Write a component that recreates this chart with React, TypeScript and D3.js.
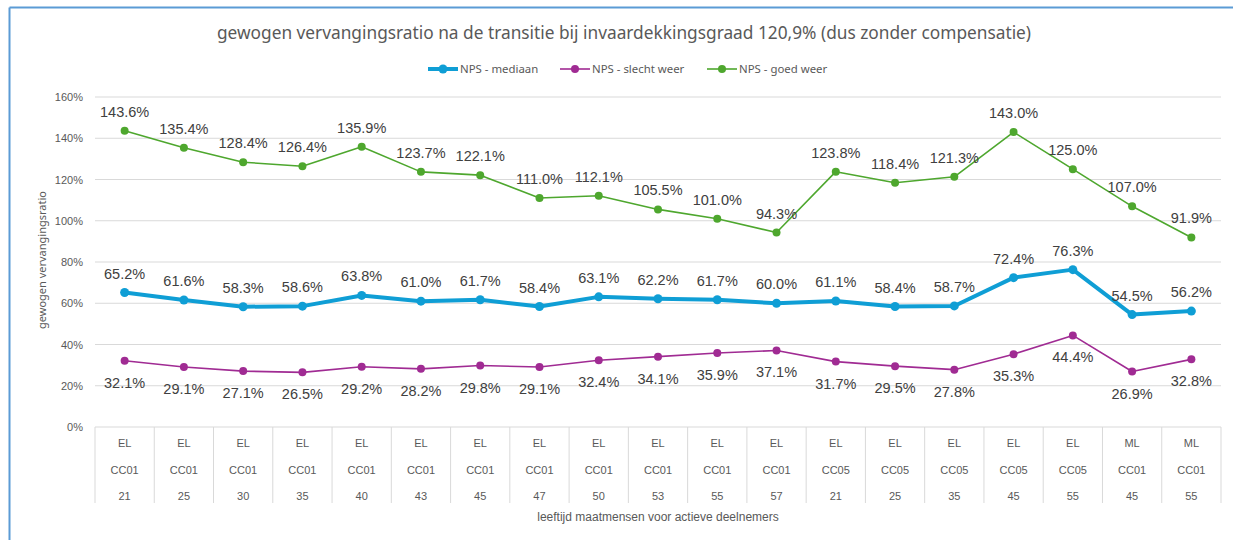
import React from "react";
import * as d3 from "d3";

const rowType = ["EL","EL","EL","EL","EL","EL","EL","EL","EL","EL","EL","EL","EL","EL","EL","EL","EL","ML","ML"];
const rowCC = ["CC01","CC01","CC01","CC01","CC01","CC01","CC01","CC01","CC01","CC01","CC01","CC01","CC05","CC05","CC05","CC05","CC05","CC01","CC01"];
const rowAge = ["21","25","30","35","40","43","45","47","50","53","55","57","21","25","35","45","55","45","55"];
const mediaan = [65.2,61.6,58.3,58.6,63.8,61.0,61.7,58.4,63.1,62.2,61.7,60.0,61.1,58.4,58.7,72.4,76.3,54.5,56.2];
const slecht = [32.1,29.1,27.1,26.5,29.2,28.2,29.8,29.1,32.4,34.1,35.9,37.1,31.7,29.5,27.8,35.3,44.4,26.9,32.8];
const goed = [143.6,135.4,128.4,126.4,135.9,123.7,122.1,111.0,112.1,105.5,101.0,94.3,123.8,118.4,121.3,143.0,125.0,107.0,91.9];
const yTicks = [0,20,40,60,80,100,120,140,160];

const W = 1233, H = 540;
const L = 95, R = 1221, T = 97, B = 427;
const FONT = "'Liberation Sans', Arial, sans-serif";
const TFONT = "'Noto Sans', 'Open Sans', sans-serif";

const series = [
  { name: "NPS - mediaan", values: mediaan, color: "#0F9ED5", width: 4, r: 4.5, pos: "above" },
  { name: "NPS - slecht weer", values: slecht, color: "#A02B93", width: 1.6, r: 4, pos: "below" },
  { name: "NPS - goed weer", values: goed, color: "#4EA72E", width: 1.6, r: 4, pos: "above" },
];

export default function App() {
  const idx = rowAge.map((_, i) => i);
  const x = d3.scaleBand<number>().domain(idx).range([L, R]);
  const y = d3.scaleLinear().domain([0, 160]).range([B, T]);
  const cx = (i: number) => (x(i) as number) + x.bandwidth() / 2;
  const line = d3.line<number>().x((_, i) => cx(i)).y((v) => y(v));
  const legendX = [428, 560, 707];
  const tableBottom = 503;
  return (
    <svg width={W} height={H} style={{ position: "absolute", left: 0, top: 0, background: "#fff" }}>
      <line x1={9.5} x2={W} y1={7.5} y2={7.5} stroke="#5B9BD5" strokeWidth={2} />
      <line x1={9.5} x2={9.5} y1={7.5} y2={H} stroke="#5B9BD5" strokeWidth={2} />
      <text x={624} y={39} textAnchor="middle" fontFamily={TFONT} fontSize={17.3} fill="#595959">
        gewogen vervangingsratio na de transitie bij invaardekkingsgraad 120,9% (dus zonder compensatie)
      </text>
      {series.map((s, k) => (
        <g key={s.name}>
          <line x1={legendX[k]} x2={legendX[k] + 30} y1={69} y2={69} stroke={s.color} strokeWidth={s.width} />
          <circle cx={legendX[k] + 15} cy={69} r={s.r} fill={s.color} />
          <text x={legendX[k] + 32} y={73} fontFamily={TFONT} fontSize={11.4} fill="#595959">{s.name}</text>
        </g>
      ))}
      {yTicks.map((t) => (
        <g key={t}>
          <line x1={L} x2={R} y1={y(t)} y2={y(t)} stroke="#D9D9D9" strokeWidth={1} />
          <text x={83} y={y(t) + 4} textAnchor="end" fontFamily={FONT} fontSize={11} fill="#595959">{t}%</text>
        </g>
      ))}
      {d3.range(rowAge.length + 1).map((i) => {
        const xx = i < rowAge.length ? (x(i) as number) : R;
        return <line key={i} x1={xx} x2={xx} y1={B} y2={tableBottom} stroke="#D9D9D9" strokeWidth={1} />;
      })}
      {idx.map((i) => (
        <g key={i} fontFamily={FONT} fontSize={11} fill="#595959" textAnchor="middle">
          <text x={cx(i)} y={447}>{rowType[i]}</text>
          <text x={cx(i)} y={474}>{rowCC[i]}</text>
          <text x={cx(i)} y={500}>{rowAge[i]}</text>
        </g>
      ))}
      <text x={658} y={521} textAnchor="middle" fontFamily={FONT} fontSize={12} fill="#595959">
        leeftijd maatmensen voor actieve deelnemers
      </text>
      <text transform={`translate(46,260) rotate(-90)`} textAnchor="middle" fontFamily={TFONT} fontSize={11} fill="#595959">
        gewogen vervangingsratio
      </text>
      {series.map((s) => (
        <g key={s.name}>
          <path d={line(s.values) || ""} fill="none" stroke={s.color} strokeWidth={s.width} strokeLinejoin="round" />
          {s.values.map((v, i) => (
            <circle key={i} cx={cx(i)} cy={y(v)} r={s.r} fill={s.color} />
          ))}
          {s.values.map((v, i) => (
            <text key={"l" + i} x={cx(i)} y={s.pos === "above" ? y(v) - 14 : y(v) + 27} textAnchor="middle" fontFamily={FONT} fontSize={14.5} fill="#404040">
              {v.toFixed(1)}%
            </text>
          ))}
        </g>
      ))}
    </svg>
  );
}
